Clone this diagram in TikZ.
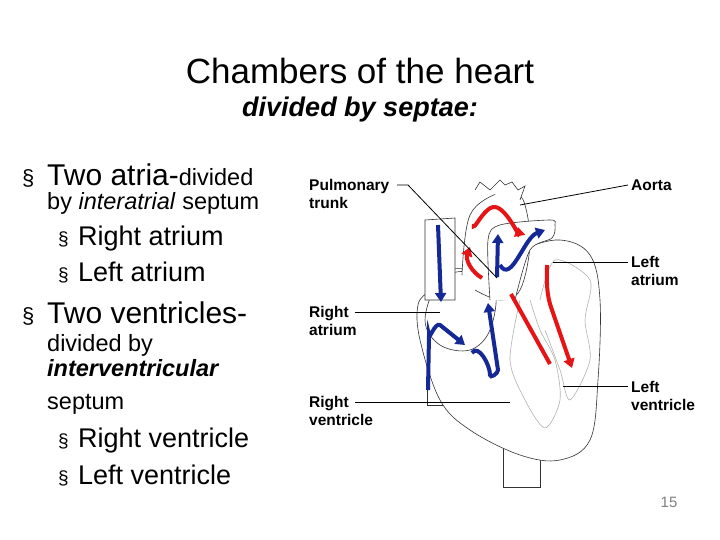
\documentclass[tikz,border=0pt]{standalone}
\usepackage{fontspec}
\setmainfont{Liberation Sans}
\usetikzlibrary{arrows.meta}
\begin{document}
\begin{tikzpicture}[x=1pt,y=-1pt,
  txt/.style={anchor=base west,inner sep=0pt},
  lbl/.style={anchor=west,inner sep=0pt,font=\fontsize{15.5}{18}\selectfont\bfseries,align=left},
  hl/.style={draw=gray!70!black,line width=0.6pt},
  ol/.style={draw=black!80,line width=0.6pt,fill=white},
  blue/.style={draw={rgb,255:red,20;green,40;blue,150},line width=4pt,-{Triangle[length=9pt,width=11pt]}},
  redr/.style={draw={rgb,255:red,230;green,20;blue,20},line width=4pt,-{Triangle[length=9pt,width=11pt]}},
  bul/.style={anchor=base west,inner sep=0pt}]
\useasboundingbox (0,0) rectangle (720,540);
\node[anchor=base] (title) at (360,84) {\fontsize{35}{38}\selectfont Chambers of the heart};
\node[anchor=base] (sub) at (360,117) {\fontsize{27}{30}\selectfont\bfseries\itshape divided by septae:};
% bullets
\node[bul] (b1) at (22,186) {\fontsize{22}{24}\selectfont §};
\node[txt] (t1) at (47,186) {\fontsize{30}{32}\selectfont Two atria-{\fontsize{23.5}{25}\selectfont divided}};
\node[txt] (t1b) at (47,210) {\fontsize{23.5}{25}\selectfont by \textit{interatrial} septum};
\node[bul] (b2) at (58,245) {\fontsize{19}{22}\selectfont §};
\node[txt] (t2) at (78,245) {\fontsize{27}{30}\selectfont Right atrium};
\node[bul] (b3) at (58,281) {\fontsize{19}{22}\selectfont §};
\node[txt] (t3) at (78,281) {\fontsize{27}{30}\selectfont Left atrium};
\node[bul] (b4) at (22,323) {\fontsize{22}{24}\selectfont §};
\node[txt] (t4) at (47,323) {\fontsize{30}{32}\selectfont Two ventricles-};
\node[txt] (t4b) at (47,351) {\fontsize{23.5}{25}\selectfont divided by};
\node[txt] (t4c) at (47,376) {\fontsize{23.5}{25}\selectfont\bfseries\itshape interventricular};
\node[txt] (t4d) at (47,409) {\fontsize{23.5}{25}\selectfont septum};
\node[bul] (b5) at (58,447) {\fontsize{19}{22}\selectfont §};
\node[txt] (t5) at (78,447) {\fontsize{27}{30}\selectfont Right ventricle};
\node[bul] (b6) at (58,484) {\fontsize{19}{22}\selectfont §};
\node[txt] (t6) at (78,484) {\fontsize{27}{30}\selectfont Left ventricle};
\node[anchor=base,text=gray] (pg) at (669,507) {\fontsize{15}{16}\selectfont 15};
% heart
\draw[ol] (503,440) rectangle (540,487);
\draw[ol] (427,330) rectangle (446,405);
\draw[ol] plot[smooth cycle,tension=0.6] coordinates {(430,290) (450,270) (480,268) (520,250) (560,240) (590,255) (600,300) (598,380) (590,440) (560,460) (520,455) (470,430) (440,400) (420,340) (418,305)};
\draw[ol] plot[smooth cycle,tension=0.6] coordinates {(440,280) (470,272) (495,290) (490,330) (470,350) (440,345) (425,320)};
\draw[ol] (425,220) -- (455,218) -- (455,300) -- (425,300) -- cycle;
\draw[ol] plot[smooth,tension=0.6] coordinates {(462,275) (470,215) (500,192) (515,192) (525,205) (530,245) (520,290) (500,300) (475,290)};
\draw[ol] (475,190) -- (480,182) -- (490,190) -- (500,180) -- (505,185) -- (512,182) -- (518,190) -- (525,186) -- (520,200);
\draw[ol] plot[smooth,tension=0.5] coordinates {(490,300) (488,240) (500,225) (550,220) (555,225) (552,238) (530,250) (515,300)};
\draw[hl,gray!60] plot[smooth,tension=0.5] coordinates {(520,300) (510,360) (525,400) (545,428) (560,400) (555,360) (540,330) (530,300)};
\draw[hl,gray!60] plot[smooth,tension=0.5] coordinates {(540,300) (555,260) (590,280) (585,320) (590,360) (570,400) (560,370) (545,330)};
% arrows
\draw[blue] (438,225) -- (441,302);
\draw[blue] (428,390) -- (429,335) to[out=-90,in=150] (440,325) -- (465,345);
\draw[blue] (472,353) to[out=60,in=90] (490,375) to[out=-90,in=-90] (498,370) -- (488,303);
\draw[blue] (497,277) -- (498,234);
\draw[blue] (500,265) to[out=-60,in=200] (545,230);
\draw[redr] (474,224) to[out=-100,in=-170] (493,207) to[out=10,in=-80] (518,227);
\draw[redr] (482,278) to[out=150,in=-110] (470,247);
\draw[draw={rgb,255:red,230;green,20;blue,20},line width=4pt] (511,294) -- (550,364);
\draw[redr] (547,265) to[out=-90,in=110] (552,310) -- (572,368);
% labels
\node[lbl] (pt) at (309,194) {Pulmonary\\trunk};
\node[lbl] (ao) at (631,185) {Aorta};
\node[lbl] (la) at (631,271) {Left\\atrium};
\node[lbl] (ra) at (309,321) {Right\\atrium};
\node[lbl] (rv) at (309,411) {Right\\ventricle};
\node[lbl] (lv) at (631,396) {Left\\ventricle};
\coordinate (ptE) at (497,278);
\coordinate (aoE) at (520,205);
\coordinate (laE) at (553,262);
\coordinate (raE) at (440,312);
\coordinate (rvE) at (510,402);
\coordinate (lvE) at (563,386);
\draw[black,line width=0.8pt] (397,185) -- (408,185) -- (ptE);
\draw[black,line width=0.8pt] (628,185) -- (aoE);
\draw[black,line width=0.8pt] (628,262) -- (laE);
\draw[black,line width=0.8pt] (355,312) -- (raE);
\draw[black,line width=0.8pt] (355,402) -- (rvE);
\draw[black,line width=0.8pt] (628,386) -- (lvE);
\end{tikzpicture}
\end{document}
